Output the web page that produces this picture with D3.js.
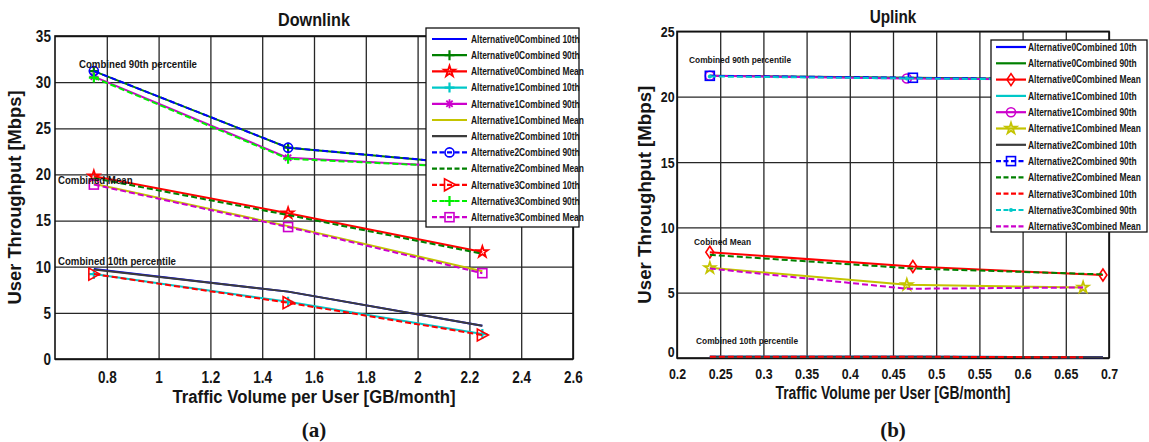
<!DOCTYPE html>
<html>
<head>
<meta charset="utf-8">
<script src="https://cdn.jsdelivr.net/npm/d3@7"></script>
<style>
  body { margin: 0; background: #fff; }
  svg text { font-family: "Liberation Sans", Arial, sans-serif; font-weight: bold; fill: #151515; }
</style>
</head>
<body>
<svg id="fig" width="1149" height="442"></svg>
<script>
// ---- data ----
const seriesNames = [
  'Alternative0Combined 10th', 'Alternative0Combined 90th', 'Alternative0Combined Mean',
  'Alternative1Combined 10th', 'Alternative1Combined 90th', 'Alternative1Combined Mean',
  'Alternative2Combined 10th', 'Alternative2Combined 90th', 'Alternative2Combined Mean',
  'Alternative3Combined 10th', 'Alternative3Combined 90th', 'Alternative3Combined Mean'
];

// Downlink: same traffic volume for every alternative (GB/month)
const dlTraffic = [0.75, 1.5, 2.25];
// rows = Alternative0..3, Mbps
const dl10th = [[9.75, 7.3, 3.6], [9.2, 6.2, 2.7], [9.7, 7.3, 3.6], [9.2, 6.1, 2.6]];
const dl90th = [[31.2, 22.9, 21.0], [30.6, 21.8, 20.7], [31.2, 22.9, 21.0], [30.5, 21.7, 20.7]];
const dlMean = [[19.8, 15.8, 11.6], [19.0, 14.4, 9.5], [19.6, 15.6, 11.4], [18.9, 14.3, 9.3]];

// Uplink: traffic volume differs per alternative (GB/month)
const ulTraffic = [[0.238, 0.473, 0.693], [0.238, 0.466, 0.67], [0.238, 0.473, 0.693], [0.238, 0.466, 0.67]];
const ul10th = [[0.1, 0.1, 0.05], [0.1, 0.1, 0.05], [0.1, 0.1, 0.05], [0.1, 0.1, 0.05]];
const ul90th = [[21.6, 21.45, 21.3], [21.6, 21.4, 21.3], [21.6, 21.45, 21.3], [21.55, 21.4, 21.3]];
const ulMean = [[8.1, 7.0, 6.35], [6.9, 5.6, 5.4], [7.9, 6.85, 6.4], [6.85, 5.3, 5.4]];

const dlXTicks = [0.8, 1, 1.2, 1.4, 1.6, 1.8, 2, 2.2, 2.4, 2.6];
const dlYTicks = [0, 5, 10, 15, 20, 25, 30, 35];
const ulXTicks = [0.2, 0.25, 0.3, 0.35, 0.4, 0.45, 0.5, 0.55, 0.6, 0.65, 0.7];
const ulYTicks = [0, 5, 10, 15, 20, 25];

const dlNotes = ['Combined 90th percentile', 'Combined Mean', 'Combined 10th percentile'];
const ulNotes = ['Combined 90th percentile', 'Cobined Mean', 'Combined 10th percentile'];

// ---- styles (matlab-ish colours) ----
const C = {
  blue: '#0000ff', green: '#008000', red: '#ff0000', cyan: '#00c8c8',
  mag: '#cc00cc', yel: '#c4c400', gray: '#3c3c3c', lime: '#00ee00'
};
const dlStyles = [
  {c: C.blue}, {c: C.green, m: 'plus'}, {c: C.red, m: 'star'},
  {c: C.cyan, m: 'plus'}, {c: C.mag, m: 'asterisk'}, {c: C.yel},
  {c: C.gray}, {c: C.blue, dash: true, m: 'circle'}, {c: C.green, dash: true},
  {c: C.red, dash: true, m: 'triangle'}, {c: C.lime, dash: true, m: 'plus'}, {c: C.mag, dash: true, m: 'square'}
];
const ulStyles = [
  {c: C.blue}, {c: C.green}, {c: C.red, m: 'diamond'},
  {c: C.cyan}, {c: C.mag, m: 'circle'}, {c: C.yel, m: 'star'},
  {c: C.gray}, {c: C.blue, dash: true, m: 'square'}, {c: C.green, dash: true},
  {c: C.red, dash: true}, {c: C.cyan, dash: true, m: 'dot'}, {c: C.mag, dash: true}
];

const svg = d3.select('#fig');
svg.append('rect').attr('width', 1149).attr('height', 442).attr('fill', '#fff');

// squeeze text horizontally like the scanned figure
function squeeze(sel, x, y, sx) {
  return sel.attr('x', 0).attr('y', 0).attr('transform', `translate(${x},${y}) scale(${sx},1)`);
}

function drawMarker(g, type, color, cx, cy) {
  if (!type) return;
  let s;
  switch (type) {
    case 'plus':
      g.append('path').attr('d', `M${cx - 5},${cy}H${cx + 5}M${cx},${cy - 5}V${cy + 5}`)
        .attr('stroke', color).attr('stroke-width', 2.2).attr('fill', 'none');
      break;
    case 'asterisk':
      s = 4.5;
      g.append('path').attr('d', `M${cx - s},${cy}H${cx + s}M${cx},${cy - s}V${cy + s}` +
          `M${cx - s * 0.7},${cy - s * 0.7}L${cx + s * 0.7},${cy + s * 0.7}M${cx - s * 0.7},${cy + s * 0.7}L${cx + s * 0.7},${cy - s * 0.7}`)
        .attr('stroke', color).attr('stroke-width', 1.8).attr('fill', 'none');
      break;
    case 'star':
      g.append('path').attr('d', d3.symbol(d3.symbolStar, 38)())
        .attr('transform', `translate(${cx},${cy})`)
        .attr('stroke', color).attr('stroke-width', 1.8).attr('fill', 'none');
      break;
    case 'circle':
      g.append('circle').attr('cx', cx).attr('cy', cy).attr('r', 4.5)
        .attr('stroke', color).attr('stroke-width', 1.6).attr('fill', 'none');
      break;
    case 'square':
      g.append('rect').attr('x', cx - 4.5).attr('y', cy - 4.5).attr('width', 9).attr('height', 9)
        .attr('stroke', color).attr('stroke-width', 1.6).attr('fill', 'none');
      break;
    case 'triangle':
      g.append('path').attr('d', `M${cx + 6},${cy}L${cx - 5},${cy - 6}L${cx - 5},${cy + 6}Z`)
        .attr('stroke', color).attr('stroke-width', 1.6).attr('fill', 'none');
      break;
    case 'diamond':
      g.append('path').attr('d', `M${cx},${cy - 6}L${cx + 4},${cy}L${cx},${cy + 6}L${cx - 4},${cy}Z`)
        .attr('stroke', color).attr('stroke-width', 1.6).attr('fill', 'none');
      break;
    case 'dot':
      g.append('circle').attr('cx', cx).attr('cy', cy).attr('r', 2).attr('fill', color);
      break;
  }
}

function drawPanel(p) {
  const g = svg.append('g');
  const [x0, x1] = p.x.range();
  const [y0, y1] = p.y.range();

  // grid + tick labels via axes
  const xAxis = g.append('g').attr('transform', `translate(0,${y0})`)
    .call(d3.axisBottom(p.x).tickValues(p.xTicks).tickSize(-(y0 - y1)).tickPadding(p.xPad)
      .tickFormat(d => String(+d.toFixed(2))));
  const yAxis = g.append('g').attr('transform', `translate(${x0},0)`)
    .call(d3.axisLeft(p.y).tickValues(p.yTicks).tickSize(-(x1 - x0)).tickPadding(p.yPad));
  [xAxis, yAxis].forEach(a => {
    a.select('.domain').remove();
    a.selectAll('line').attr('stroke', '#262626').attr('stroke-width', 1.3);
    a.selectAll('text').attr('font-size', p.tickSize).attr('fill', '#151515')
      .attr('font-family', '"Liberation Sans", Arial, sans-serif').attr('font-weight', 'bold');
  });
  xAxis.selectAll('text').attr('transform', `scale(${p.tickSx},1)`);
  yAxis.selectAll('text').attr('transform', (d) =>
    `translate(0,${d === 0 ? p.zeroLift : 0}) scale(${p.tickSx},1)`);

  // frame
  g.append('rect').attr('x', x0).attr('y', y1).attr('width', x1 - x0).attr('height', y0 - y1)
    .attr('fill', 'none').attr('stroke', '#111').attr('stroke-width', 1.6);

  // series
  const line = d3.line().x(d => p.x(d[0])).y(d => p.y(d[1]));
  p.series.forEach((s, i) => {
    const st = p.styles[i];
    const pts = s.xs.map((xv, k) => [xv, s.ys[k]]);
    g.append('path').attr('d', line(pts)).attr('fill', 'none')
      .attr('stroke', st.c).attr('stroke-width', 2)
      .attr('stroke-dasharray', st.dash ? '6,3' : null);
    pts.forEach(d => drawMarker(g, st.m, st.c, p.x(d[0]), p.y(d[1])));
  });

  // group annotations
  p.notes.forEach(n => {
    squeeze(g.append('text').text(n.t).attr('font-size', p.noteSize), n.x, n.y, p.noteSx);
  });

  // title and axis labels
  squeeze(g.append('text').text(p.title).attr('font-size', 18).attr('text-anchor', 'middle'),
    (x0 + x1) / 2, p.titleY, p.titleSx);
  g.append('text').text('Traffic Volume per User [GB/month]').attr('font-size', 17.5)
    .attr('text-anchor', 'middle').attr('x', (x0 + x1) / 2).attr('y', p.xLabelY)
    .attr('textLength', p.xLabelW).attr('lengthAdjust', 'spacingAndGlyphs');
  g.append('text').text('User Throughput [Mbps]').attr('font-size', 18.5)
    .attr('text-anchor', 'middle')
    .attr('transform', `translate(${p.yLabelX},${(y0 + y1) / 2}) rotate(-90)`)
    .attr('textLength', p.yLabelW).attr('lengthAdjust', 'spacingAndGlyphs');
  g.append('text').text(p.tag).attr('font-size', 21).attr('text-anchor', 'middle')
    .style('font-family', '"Liberation Serif", "Times New Roman", serif')
    .attr('x', (x0 + x1) / 2).attr('y', 437);

  // legend
  const L = p.legend;
  const lg = g.append('g');
  lg.append('rect').attr('x', L.x).attr('y', L.y).attr('width', L.w).attr('height', L.h)
    .attr('fill', '#fff').attr('stroke', '#111').attr('stroke-width', 1.3);
  seriesNames.forEach((name, i) => {
    const st = p.styles[i];
    const yy = L.y0 + i * L.dy;
    lg.append('line').attr('x1', L.lx0).attr('x2', L.lx1).attr('y1', yy).attr('y2', yy)
      .attr('stroke', st.c).attr('stroke-width', 2.2)
      .attr('stroke-dasharray', st.dash ? '5,2.5' : null);
    drawMarker(lg, st.m, st.c, (L.lx0 + L.lx1) / 2, yy);
    squeeze(lg.append('text').text(name).attr('font-size', 10.5), L.tx, yy + 3.8, L.sx);
  });
}

const dlX = d3.scaleLinear().domain([0.6, 2.6]).range([55, 573]);
const dlY = d3.scaleLinear().domain([0, 35]).range([359, 36]);
const ulX = d3.scaleLinear().domain([0.2, 0.7]).range([677, 1109]);
const ulY = d3.scaleLinear().domain([0, 25]).range([358, 31.4]);

function buildSeries(xsFor, groups) {
  const out = [];
  for (let a = 0; a < 4; a++) {
    groups.forEach(gr => out.push({xs: xsFor(a), ys: gr[a]}));
  }
  return out;
}

drawPanel({
  x: dlX, y: dlY, xTicks: dlXTicks, yTicks: dlYTicks,
  xPad: 12, yPad: 5, tickSize: 16.5, tickSx: 0.82, zeroLift: 0,
  series: buildSeries(() => dlTraffic, [dl10th, dl90th, dlMean]),
  styles: dlStyles,
  notes: [
    {t: dlNotes[0], x: 79, y: 68}, {t: dlNotes[1], x: 58, y: 184}, {t: dlNotes[2], x: 58, y: 265}
  ],
  noteSize: 10.5, noteSx: 0.92,
  title: 'Downlink', titleY: 26, titleSx: 0.9,
  xLabelY: 403, xLabelW: 283, yLabelX: 21, yLabelW: 214, tag: '(a)',
  legend: {x: 426, y: 28, w: 153, h: 199, y0: 39, dy: 16.2, lx0: 432, lx1: 467, tx: 471, sx: 0.8}
});

drawPanel({
  x: ulX, y: ulY, xTicks: ulXTicks, yTicks: ulYTicks,
  xPad: 10, yPad: 3, tickSize: 15.5, tickSx: 0.8, zeroLift: -6,
  series: buildSeries(a => ulTraffic[a], [ul10th, ul90th, ulMean]),
  styles: ulStyles,
  notes: [
    {t: ulNotes[0], x: 689, y: 63}, {t: ulNotes[1], x: 694, y: 245}, {t: ulNotes[2], x: 696, y: 344}
  ],
  noteSize: 9.5, noteSx: 0.88,
  title: 'Uplink', titleY: 23, titleSx: 0.85,
  xLabelY: 399, xLabelW: 235, yLabelX: 651, yLabelW: 218, tag: '(b)',
  legend: {x: 991, y: 40, w: 156, h: 192, y0: 47, dy: 16.3, lx0: 996, lx1: 1026, tx: 1028, sx: 0.8}
});
</script>
</body>
</html>
